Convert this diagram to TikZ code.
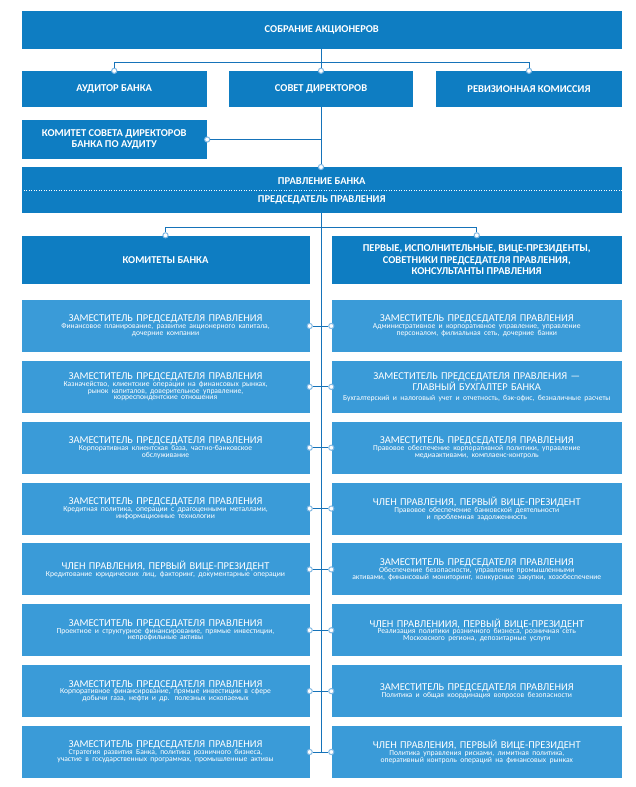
\documentclass[tikz,border=0pt]{standalone}
\usepackage{fontspec}
\setmainfont{Carlito}
\definecolor{dark}{RGB}{14,125,194}
\definecolor{light}{RGB}{58,155,216}
\definecolor{lnc}{RGB}{22,115,185}
\definecolor{ring}{RGB}{130,185,228}
\newcommand\hd{\bfseries\fontsize{10.5}{11.3}\selectfont}
\newcommand\ttl{\fontsize{10.5}{11.5}\selectfont}
\newcommand\dsc{\fontsize{7.6}{6.9}\selectfont\lineskiplimit=-6pt\relax}
\newcommand\rowtext[3][0pt]{{\ttl #2\par}\vskip#1{\dsc #3\par}}
\tikzset{
  hbox/.style={fill=dark, text=white, inner sep=0pt, align=center, font=\hd},
  rbox/.style={fill=light, text=white, inner sep=0pt, align=center,
     minimum height=52pt},
  lbox/.style={rbox, minimum width=288pt, text width=284pt},
  qbox/.style={rbox, minimum width=290.5pt, text width=286pt},
  dotc/.style={circle, draw=ring, fill=white, inner sep=0pt, minimum size=5.2pt, line width=1pt},
  conn/.style={draw=lnc, line width=0.9pt}
}
\begin{document}
\begin{tikzpicture}[x=1pt,y=-1pt]
\useasboundingbox (0,0) rectangle (635,787);
\fill[white] (0,0) rectangle (635,787);
% top level
\node[hbox, minimum width=600.5pt, minimum height=38pt] (top) at (321.75,30) {СОБРАНИЕ АКЦИОНЕРОВ};
\node[hbox, minimum width=185.5pt, minimum height=36pt] (aud) at (114.25,89) {АУДИТОР БАНКА};
\node[hbox, minimum width=184pt, minimum height=36pt] (sov) at (321,89) {СОВЕТ ДИРЕКТОРОВ};
\node[hbox, minimum width=186pt, minimum height=36pt] (rev) at (529,89) {РЕВИЗИОННАЯ КОМИССИЯ};
\node[hbox, minimum width=185.5pt, minimum height=39pt] (kom) at (114.25,139.5) {КОМИТЕТ СОВЕТА ДИРЕКТОРОВ\\БАНКА ПО АУДИТУ};
\node[hbox, minimum width=600.5pt, minimum height=46pt] (prav) at (321.75,190) {};
\draw[white, dotted, line width=0.5pt] (prav.west) -- (prav.east);
\node[text=white, font=\hd, inner sep=0pt] (pr1) at (321.75,181) {ПРАВЛЕНИЕ БАНКА};
\node[text=white, font=\hd, inner sep=0pt] (pr2) at (321.75,200) {ПРЕДСЕДАТЕЛЬ ПРАВЛЕНИЯ};
\node[hbox, minimum width=288pt, minimum height=48.5pt] (kb) at (165.5,259.75) {КОМИТЕТЫ БАНКА};
\node[hbox, minimum width=290.5pt, minimum height=48.5pt] (fv) at (476.75,259.75) {ПЕРВЫЕ, ИСПОЛНИТЕЛЬНЫЕ, ВИЦЕ-ПРЕЗИДЕНТЫ,\\СОВЕТНИКИ ПРЕДСЕДАТЕЛЯ ПРАВЛЕНИЯ,\\КОНСУЛЬТАНТЫ ПРАВЛЕНИЯ};
% rows left
\node[lbox] (L1) at (165.5,326) {\rowtext{ЗАМЕСТИТЕЛЬ ПРЕДСЕДАТЕЛЯ ПРАВЛЕНИЯ}{Финансовое планирование, развитие акционерного капитала,\\дочерние компании}};
\node[lbox] (L2) at (165.5,386.86) {\rowtext{ЗАМЕСТИТЕЛЬ ПРЕДСЕДАТЕЛЯ ПРАВЛЕНИЯ}{Казначейство, клиентские операции на финансовых рынках,\\рынок капиталов, доверительное управление,\\корреспондентские отношения}};
\node[lbox] (L3) at (165.5,447.71) {\rowtext{ЗАМЕСТИТЕЛЬ ПРЕДСЕДАТЕЛЯ ПРАВЛЕНИЯ}{Корпоративная клиентская база, частно-банковское\\обслуживание}};
\node[lbox] (L4) at (165.5,508.57) {\rowtext{ЗАМЕСТИТЕЛЬ ПРЕДСЕДАТЕЛЯ ПРАВЛЕНИЯ}{Кредитная политика, операции с драгоценными металлами,\\информационные технологии}};
\node[lbox] (L5) at (165.5,569.43) {\rowtext{ЧЛЕН ПРАВЛЕНИЯ, ПЕРВЫЙ ВИЦЕ-ПРЕЗИДЕНТ}{Кредитование юридических лиц, факторинг, документарные операции}};
\node[lbox] (L6) at (165.5,630.29) {\rowtext{ЗАМЕСТИТЕЛЬ ПРЕДСЕДАТЕЛЯ ПРАВЛЕНИЯ}{Проектное и структурное финансирование, прямые инвестиции,\\непрофильные активы}};
\node[lbox] (L7) at (165.5,691.14) {\rowtext{ЗАМЕСТИТЕЛЬ ПРЕДСЕДАТЕЛЯ ПРАВЛЕНИЯ}{Корпоративное финансирование, прямые инвестиции в сфере\\добычи газа, нефти и др. полезных ископаемых}};
\node[lbox] (L8) at (165.5,752) {\rowtext{ЗАМЕСТИТЕЛЬ ПРЕДСЕДАТЕЛЯ ПРАВЛЕНИЯ}{Стратегия развития Банка, политика розничного бизнеса,\\участие в государственных программах, промышленные активы}};
% rows right
\node[qbox] (R1) at (476.75,326) {\rowtext{ЗАМЕСТИТЕЛЬ ПРЕДСЕДАТЕЛЯ ПРАВЛЕНИЯ}{Административное и корпоративное управление, управление\\персоналом, филиальная сеть, дочерние банки}};
\node[qbox] (R2) at (476.75,386.86) {\rowtext[2.5pt]{ЗАМЕСТИТЕЛЬ ПРЕДСЕДАТЕЛЯ ПРАВЛЕНИЯ —\\ГЛАВНЫЙ БУХГАЛТЕР БАНКА}{Бухгалтерский и налоговый учет и отчетность, бэк-офис, безналичные расчеты}};
\node[qbox] (R3) at (476.75,447.71) {\rowtext{ЗАМЕСТИТЕЛЬ ПРЕДСЕДАТЕЛЯ ПРАВЛЕНИЯ}{Правовое обеспечение корпоративной политики, управление\\медиаактивами, комплаенс-контроль}};
\node[qbox] (R4) at (476.75,508.57) {\rowtext{ЧЛЕН ПРАВЛЕНИЯ, ПЕРВЫЙ ВИЦЕ-ПРЕЗИДЕНТ}{Правовое обеспечение банковской деятельности\\и проблемная задолженность}};
\node[qbox] (R5) at (476.75,569.43) {\rowtext{ЗАМЕСТИТЕЛЬ ПРЕДСЕДАТЕЛЯ ПРАВЛЕНИЯ}{Обеспечение безопасности, управление промышленными\\активами, финансовый мониторинг, конкурсные закупки, хозобеспечение}};
\node[qbox] (R6) at (476.75,630.29) {\rowtext{ЧЛЕН ПРАВЛЕНИИЯ, ПЕРВЫЙ ВИЦЕ-ПРЕЗИДЕНТ}{Реализация политики розничного бизнеса, розничная сеть\\Московского региона, депозитарные услуги}};
\node[qbox] (R7) at (476.75,691.14) {\rowtext{ЗАМЕСТИТЕЛЬ ПРЕДСЕДАТЕЛЯ ПРАВЛЕНИЯ}{Политика и общая координация вопросов безопасности}};
\node[qbox] (R8) at (476.75,752) {\rowtext{ЧЛЕН ПРАВЛЕНИЯ, ПЕРВЫЙ ВИЦЕ-ПРЕЗИДЕНТ}{Политика управления рисками, лимитная политика,\\оперативный контроль операций на финансовых рынках}};
% connectors
\coordinate (barL) at (114.25,62);
\coordinate (barR) at (529,62);
\coordinate (komj) at (321,139.5);
\coordinate (hbL) at (165.5,227.7);
\coordinate (hbR) at (476.75,227.7);
\coordinate (ctop) at (321,49);
\coordinate (cmid) at (321,213);
\coordinate (cend) at (321,752);
\node[dotc] (cAud) at (aud.north) {};
\node[dotc] (cSov) at (sov.north) {};
\node[dotc] (cRev) at (rev.north) {};
\node[dotc] (cKom) at (kom.east) {};
\node[dotc] (cPrav) at (321,167) {};
\node[dotc] (cKB) at (kb.north) {};
\node[dotc] (cFV) at (fv.north) {};
\draw[conn] (ctop) -- (cSov);
\draw[conn] (cAud) -- (barL) -- (barR) -- (cRev);
\draw[conn] (sov.south) -- (cPrav);
\draw[conn] (cKom) -- (komj);
\draw[conn] (cKB) -- (hbL) -- (hbR) -- (cFV);
\draw[conn] (cmid) -- (cend);
\foreach \i in {1,...,8} {
  \node[dotc] (cL\i) at (L\i.east) {};
  \node[dotc] (cR\i) at (R\i.west) {};
  \draw[conn] (cL\i) -- (cR\i);
}
\end{tikzpicture}
\end{document}
